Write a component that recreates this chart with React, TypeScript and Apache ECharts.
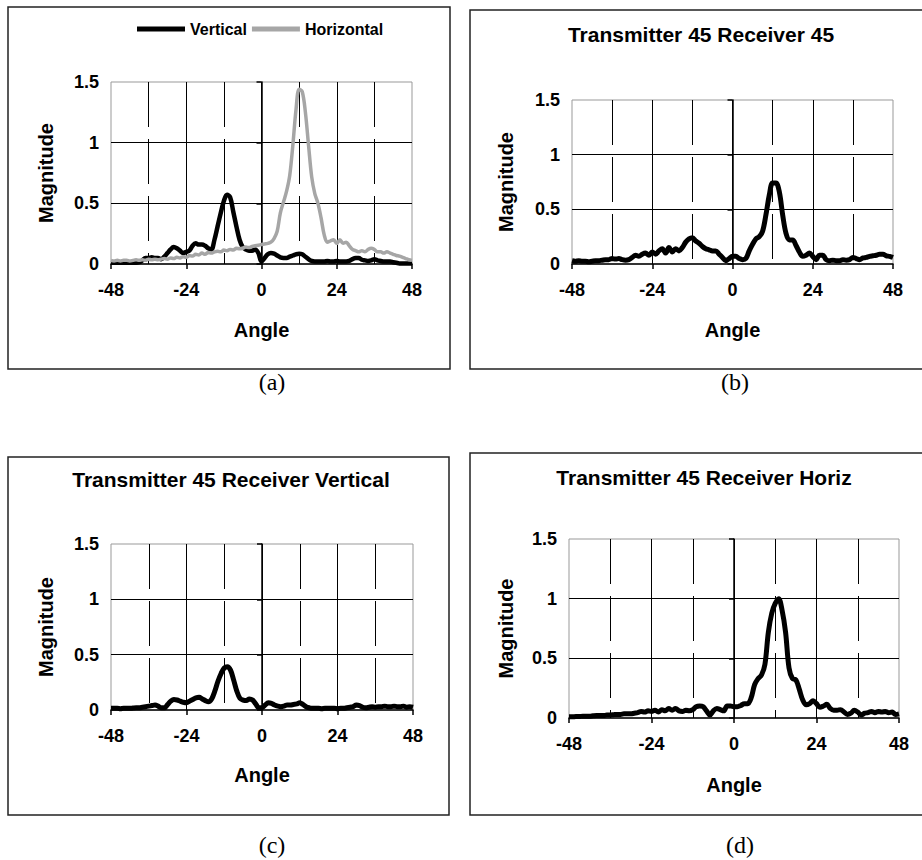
import React, { useEffect, useRef } from "react";
import * as echarts from "echarts";

// Angles (degrees), shared by every series
const ANGLES = [
  -48, -47, -46, -45, -44, -43, -42, -41, -40, -39,
  -38, -37, -36, -35, -34, -33, -32, -31, -30, -29,
  -28, -27, -26, -25, -24, -23, -22, -21, -20, -19,
  -18, -17, -16, -15, -14, -13, -12, -11, -10, -9,
  -8, -7, -6, -5, -4, -3, -2, -1, 0, 1,
  2, 3, 4, 5, 6, 7, 8, 9, 10, 11,
  12, 13, 14, 15, 16, 17, 18, 19, 20, 21,
  22, 23, 24, 25, 26, 27, 28, 29, 30, 31,
  32, 33, 34, 35, 36, 37, 38, 39, 40, 41,
  42, 43, 44, 45, 46, 47, 48,
];

// (a) Vertical
const A_VERTICAL = [
  0.01, 0.01, 0.01, 0.01, 0.01, 0.01, 0.01, 0.01, 0.01, 0.015,
  0.03, 0.05, 0.05, 0.055, 0.05, 0.05, 0.04, 0.06, 0.09, 0.12,
  0.14, 0.13, 0.11, 0.09, 0.1, 0.11, 0.15, 0.17, 0.16, 0.16,
  0.15, 0.13, 0.12, 0.2, 0.31, 0.42, 0.52, 0.57, 0.55, 0.43,
  0.31, 0.2, 0.14, 0.12, 0.11, 0.11, 0.12, 0.09, 0.02, 0.05,
  0.08, 0.09, 0.085, 0.07, 0.055, 0.05, 0.05, 0.06, 0.07, 0.08,
  0.085, 0.08, 0.06, 0.04, 0.025, 0.02, 0.02, 0.02, 0.02, 0.025,
  0.02, 0.02, 0.025, 0.02, 0.02, 0.02, 0.025, 0.04, 0.05, 0.05,
  0.035, 0.03, 0.025, 0.03, 0.04, 0.03, 0.025, 0.02, 0.02, 0.02,
  0.015, 0.01, 0.005, 0.005, 0.005, 0.005, 0.005,
];

// (a) Horizontal
const A_HORIZONTAL = [
  0.03, 0.025, 0.03, 0.025, 0.03, 0.03, 0.025, 0.03, 0.035, 0.03,
  0.035, 0.03, 0.04, 0.035, 0.04, 0.035, 0.04, 0.045, 0.04, 0.05,
  0.045, 0.055, 0.05, 0.06, 0.055, 0.07, 0.065, 0.08, 0.075, 0.09,
  0.08, 0.095, 0.09, 0.1, 0.105, 0.1, 0.115, 0.11, 0.12, 0.115,
  0.13, 0.125, 0.13, 0.14, 0.135, 0.145, 0.15, 0.155, 0.16, 0.165,
  0.17, 0.18, 0.21, 0.27, 0.42, 0.51, 0.6, 0.73, 0.98, 1.27,
  1.44, 1.42, 1.25, 0.98, 0.72, 0.58, 0.5, 0.38, 0.24, 0.18,
  0.19, 0.2, 0.17, 0.2, 0.17, 0.18, 0.15, 0.12, 0.11, 0.1,
  0.11, 0.1, 0.12, 0.13, 0.12, 0.1, 0.1, 0.09, 0.1, 0.09,
  0.08, 0.07, 0.065, 0.055, 0.045, 0.035, 0.03,
];

// (b) Transmitter 45 Receiver 45
const B_45_45 = [
  0.03, 0.025, 0.03, 0.025, 0.025, 0.02, 0.025, 0.03, 0.03, 0.035,
  0.04, 0.04, 0.05, 0.045, 0.05, 0.04, 0.035, 0.04, 0.06, 0.08,
  0.07, 0.09, 0.1, 0.08, 0.11, 0.09, 0.12, 0.14, 0.1, 0.15,
  0.11, 0.14, 0.12, 0.15, 0.2, 0.23, 0.24, 0.21, 0.19, 0.16,
  0.14, 0.13, 0.12, 0.12, 0.09, 0.06, 0.03, 0.05, 0.07, 0.07,
  0.05, 0.04, 0.05, 0.12, 0.18, 0.23, 0.25, 0.3, 0.45, 0.63,
  0.74, 0.74, 0.66, 0.45, 0.28, 0.22, 0.22, 0.17, 0.11, 0.07,
  0.08, 0.1, 0.07, 0.04, 0.08, 0.08, 0.04, 0.03, 0.035, 0.03,
  0.03, 0.04, 0.035, 0.04, 0.06, 0.05, 0.04, 0.055, 0.06, 0.07,
  0.075, 0.08, 0.09, 0.09, 0.075, 0.07, 0.06,
];

// (c) Transmitter 45 Receiver Vertical
const C_45_VERTICAL = [
  0.015, 0.015, 0.015, 0.012, 0.015, 0.015, 0.015, 0.018, 0.02, 0.02,
  0.025, 0.03, 0.035, 0.04, 0.045, 0.035, 0.02, 0.02, 0.05, 0.08,
  0.095, 0.09, 0.08, 0.07, 0.065, 0.08, 0.095, 0.11, 0.115, 0.1,
  0.085, 0.075, 0.1, 0.17, 0.26, 0.33, 0.38, 0.39, 0.36, 0.27,
  0.17, 0.105, 0.09, 0.085, 0.1, 0.09, 0.055, 0.02, 0.02, 0.045,
  0.065, 0.06, 0.045, 0.035, 0.03, 0.035, 0.045, 0.045, 0.05, 0.055,
  0.065, 0.05, 0.03, 0.02, 0.015, 0.015, 0.015, 0.012, 0.015, 0.015,
  0.015, 0.015, 0.012, 0.015, 0.015, 0.02, 0.025, 0.03, 0.045, 0.04,
  0.025, 0.02, 0.025, 0.03, 0.025, 0.03, 0.03, 0.035, 0.03, 0.03,
  0.035, 0.03, 0.03, 0.035, 0.025, 0.03, 0.025,
];

// (d) Transmitter 45 Receiver Horiz
const D_45_HORIZ = [
  0.01, 0.01, 0.012, 0.012, 0.015, 0.015, 0.015, 0.018, 0.02, 0.02,
  0.02, 0.025, 0.025, 0.028, 0.03, 0.03, 0.035, 0.035, 0.035, 0.04,
  0.045, 0.055, 0.05, 0.06, 0.055, 0.065, 0.05, 0.07, 0.06, 0.08,
  0.065, 0.08, 0.06, 0.055, 0.065, 0.06, 0.07, 0.095, 0.1, 0.095,
  0.06, 0.025, 0.06, 0.08, 0.07, 0.06, 0.1, 0.1, 0.095, 0.095,
  0.105, 0.12, 0.12, 0.17, 0.28, 0.33, 0.36, 0.45, 0.72, 0.88,
  0.96, 1.0, 0.9, 0.72, 0.42, 0.33, 0.32, 0.24, 0.15, 0.11,
  0.12, 0.145, 0.12, 0.09, 0.1, 0.115, 0.08, 0.065, 0.065, 0.07,
  0.05, 0.03, 0.04, 0.065, 0.05, 0.025, 0.04, 0.045, 0.055, 0.045,
  0.055, 0.05, 0.055, 0.045, 0.05, 0.03, 0.035,
];

const PANEL_TITLES = [
  "",
  "Transmitter 45 Receiver 45",
  "Transmitter 45 Receiver Vertical",
  "Transmitter 45 Receiver Horiz",
];
const CAPTIONS = ["(a)", "(b)", "(c)", "(d)"];
const X_NAME = "Angle";
const Y_NAME = "Magnitude";

const SANS = "'Liberation Sans', Arial, Helvetica, sans-serif";
const SERIF = "'Liberation Serif', 'Times New Roman', serif";

const GRIDS = [
  { left: 111, top: 82, width: 301, height: 182 },
  { left: 572, top: 100, width: 321, height: 164 },
  { left: 111, top: 544, width: 302, height: 166 },
  { left: 569, top: 539, width: 330, height: 179 },
];
const Y_NAME_GAP = [55, 56, 55, 53];
const X_NAME_GAP = [56, 56, 55, 57];
const FRAMES = [
  { x: 8, y: 7, width: 442, height: 362 },
  { x: 470, y: 10, width: 470, height: 359 },
  { x: 8, y: 457, width: 441, height: 358 },
  { x: 470, y: 453, width: 470, height: 362 },
];
const TITLE_POS = [null, { x: 701, y: 35 }, { x: 231, y: 480 }, { x: 704, y: 478 }];
const CAPTION_POS = [
  { x: 272, y: 382 },
  { x: 735, y: 382 },
  { x: 272, y: 845 },
  { x: 740, y: 845 },
];

function pairs(values: number[]) {
  return ANGLES.map((a, i) => [a, values[i]]);
}

export default function App() {
  const ref = useRef<HTMLDivElement>(null);

  useEffect(() => {
    if (!ref.current) return;
    const chart = echarts.init(ref.current, undefined, { renderer: "svg" });

    const xAxes = GRIDS.map((_, i) => ({
      gridIndex: i,
      type: "value",
      min: -48,
      max: 48,
      interval: 24,
      name: X_NAME,
      nameLocation: "middle",
      nameGap: X_NAME_GAP[i],
      nameTextStyle: { fontSize: 20, fontWeight: "bold", color: "#000", fontFamily: SANS },
      axisLine: { show: true, onZero: false, lineStyle: { color: "#000", width: 1.5 } },
      axisTick: { show: true, inside: false, length: 5, lineStyle: { color: "#000", width: 1.5 } },
      axisLabel: { fontSize: 18, fontWeight: "bold", color: "#000", fontFamily: SANS, margin: 17 },
      splitLine: { show: true, showMinLine: false, showMaxLine: false, lineStyle: { color: "#000", width: 1 } },
      minorTick: { show: false, splitNumber: 2 },
      minorSplitLine: { show: true, lineStyle: { color: "#000", width: 1, type: [45, 12] } },
    }));

    const yAxes = GRIDS.map((_, i) => ({
      gridIndex: i,
      type: "value",
      min: 0,
      max: 1.5,
      interval: 0.5,
      name: Y_NAME,
      nameLocation: "middle",
      nameGap: Y_NAME_GAP[i],
      nameRotate: 90,
      nameTextStyle: { fontSize: 20, fontWeight: "bold", color: "#000", fontFamily: SANS },
      axisLine: { show: true, lineStyle: { color: "#000", width: 1.5 } },
      axisTick: { show: true, inside: false, length: 5, lineStyle: { color: "#000", width: 1.5 } },
      axisLabel: { fontSize: 18, fontWeight: "bold", color: "#000", fontFamily: SANS, margin: 12 },
      splitLine: { show: true, showMinLine: false, showMaxLine: false, lineStyle: { color: "#000", width: 1 } },
    }));

    const lineSeries = (name: string, values: number[], idx: number, color: string, width: number) => ({
      name,
      type: "line",
      xAxisIndex: idx,
      yAxisIndex: idx,
      data: pairs(values),
      showSymbol: false,
      smooth: 0.35,
      color,
      lineStyle: { color, width },
      emphasis: { disabled: true },
    });

    const titles = TITLE_POS.map((p, i) =>
      p
        ? {
            text: PANEL_TITLES[i],
            left: p.x,
            top: p.y - 11,
            textAlign: "center",
            padding: 0,
            textStyle: { fontSize: 21, fontWeight: "bold", color: "#000", fontFamily: SANS },
          }
        : null
    ).filter(Boolean);

    const graphics: any[] = [];
    FRAMES.forEach((f) => {
      graphics.push({
        type: "rect",
        shape: { x: f.x, y: f.y, width: f.width, height: f.height },
        style: { fill: "none", stroke: "#222", lineWidth: 1.5 },
        silent: true,
      });
    });
    CAPTION_POS.forEach((p, i) => {
      graphics.push({
        type: "text",
        x: p.x,
        y: p.y,
        style: {
          text: CAPTIONS[i],
          fontSize: 24,
          fontFamily: SERIF,
          fill: "#000",
          align: "center",
          verticalAlign: "middle",
        },
        silent: true,
      });
    });

    chart.setOption({
      animation: false,
      backgroundColor: "#fff",
      title: titles,
      legend: {
        left: 137,
        top: 21,
        padding: 0,
        itemWidth: 48,
        itemHeight: 5,
        itemGap: 5,
        icon: "rect",
        data: ["Vertical", "Horizontal"],
        textStyle: { fontSize: 16, fontWeight: "bold", color: "#000", fontFamily: SANS },
      },
      grid: GRIDS.map((g) => ({
        ...g,
        show: true,
        borderColor: "#999",
        borderWidth: 1,
        backgroundColor: "transparent",
        containLabel: false,
      })),
      xAxis: xAxes,
      yAxis: yAxes,
      series: [
        lineSeries("Vertical", A_VERTICAL, 0, "#000", 4.5),
        lineSeries("Horizontal", A_HORIZONTAL, 0, "#a6a6a6", 3.5),
        lineSeries("T45 R45", B_45_45, 1, "#000", 5),
        lineSeries("T45 RV", C_45_VERTICAL, 2, "#000", 5),
        lineSeries("T45 RH", D_45_HORIZ, 3, "#000", 5),
      ],
      graphic: graphics,
    });

    return () => chart.dispose();
  }, []);

  return (
    <div
      ref={ref}
      style={{ position: "absolute", left: 0, top: 0, width: 922, height: 860, background: "#fff" }}
    />
  );
}
